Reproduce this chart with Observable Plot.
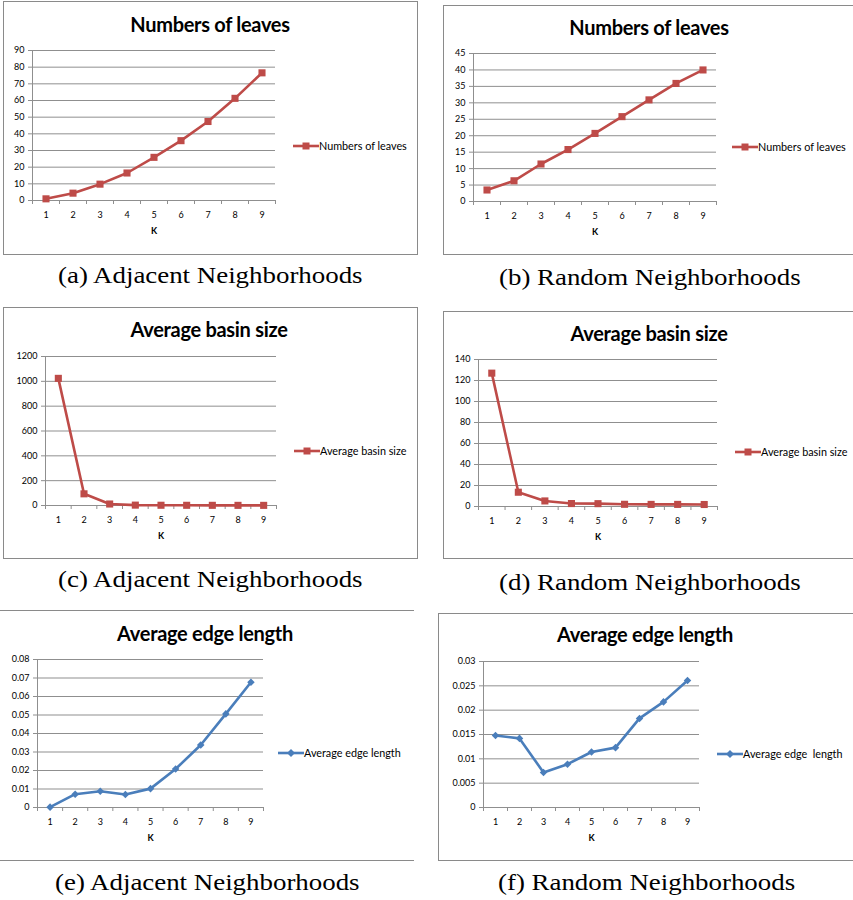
<!DOCTYPE html>
<html>
<head>
<meta charset="utf-8">
<script src="https://cdn.jsdelivr.net/npm/d3@7"></script>
<script src="https://cdn.jsdelivr.net/npm/@observablehq/plot@0.6"></script>
<style>
  body { margin: 0; background: #fff; }
  #root { position: relative; width: 853px; height: 900px; overflow: hidden; background: #fff; }
  .box { position: absolute; border: 1px solid #8a8a8a; box-sizing: border-box; }
  .title { position: absolute; font-family: Lato, sans-serif; font-weight: bold; font-size: 20px; line-height: 22px; transform: translateX(-50%); white-space: nowrap; color: #000; letter-spacing: -0.3px; }
  .caption { position: absolute; font-family: "Liberation Serif", serif; font-size: 24px; line-height: 24px; transform: translateX(-50%) scaleX(1.12); transform-origin: 0 50%; white-space: nowrap; color: #000; }
  .legend { position: absolute; font-family: Lato, sans-serif; font-size: 10.8px; line-height: 12px; display: flex; align-items: center; white-space: nowrap; color: #000; }
  .plot { position: absolute; }
</style>
</head>
<body>
<div id="root"></div>
<script>
// ---- data ----
const K = [1, 2, 3, 4, 5, 6, 7, 8, 9];
const leavesAdjacent = [1.0, 4.4, 9.8, 16.5, 25.9, 35.9, 47.4, 61.3, 76.6];
const leavesRandom = [3.5, 6.3, 11.4, 15.8, 20.7, 25.8, 30.9, 35.9, 40.0];
const basinAdjacent = [1024, 94, 12, 3, 2, 1.6, 1.4, 1.2, 1.1];
const basinRandom = [127, 13.6, 5.3, 2.8, 2.7, 2.1, 2.0, 2.0, 1.9];
const edgeAdjacent = [0.0002, 0.0072, 0.0088, 0.0070, 0.0102, 0.0208, 0.0338, 0.0506, 0.0677];
const edgeRandom = [0.0148, 0.0142, 0.0072, 0.0089, 0.0114, 0.0123, 0.0183, 0.0217, 0.0261];

const ticksLeavesAdjacent = [0, 10, 20, 30, 40, 50, 60, 70, 80, 90];
const ticksLeavesRandom = [0, 5, 10, 15, 20, 25, 30, 35, 40, 45];
const ticksBasinAdjacent = [0, 200, 400, 600, 800, 1000, 1200];
const ticksBasinRandom = [0, 20, 40, 60, 80, 100, 120, 140];
const ticksEdgeAdjacent = [0, 0.01, 0.02, 0.03, 0.04, 0.05, 0.06, 0.07, 0.08];
const ticksEdgeRandom = [0, 0.005, 0.01, 0.015, 0.02, 0.025, 0.03];

const titles = ["Numbers of leaves", "Numbers of leaves", "Average basin size", "Average basin size", "Average edge length", "Average edge length"];
const legendLabels = ["Numbers of leaves", "Numbers of leaves", "Average basin size", "Average basin size", "Average edge length", "Average edge  length"];
const captions = ["(a) Adjacent Neighborhoods", "(b) Random Neighborhoods", "(c) Adjacent Neighborhoods", "(d) Random Neighborhoods", "(e) Adjacent Neighborhoods", "(f) Random Neighborhoods"];
const xLabel = "K";

// ---- layout / style ----
const RED = "#BE4B48", BLUE = "#4A7EBB", GRID = "#8f8f8f";
const panels = [
  {values: leavesAdjacent, ticks: ticksLeavesAdjacent, color: RED, symbol: "square",
   box: {l: 3, t: 1, w: 415, h: 254}, frame: {l: 32, r: 275, t: 50, b: 200},
   title: [210, 24], legend: [293, 146], caption: [210, 275]},
  {values: leavesRandom, ticks: ticksLeavesRandom, color: RED, symbol: "square",
   box: {l: 443, t: 5, w: 430, h: 250}, frame: {l: 473, r: 716, t: 53, b: 201},
   title: [649, 27], legend: [732, 147], caption: [650, 277]},
  {values: basinAdjacent, ticks: ticksBasinAdjacent, color: RED, symbol: "square",
   box: {l: 3, t: 307, w: 415, h: 252}, frame: {l: 45, r: 276, t: 356, b: 505},
   title: [209, 329], legend: [294, 451], caption: [210, 579]},
  {values: basinRandom, ticks: ticksBasinRandom, color: RED, symbol: "square",
   box: {l: 443, t: 311, w: 430, h: 248}, frame: {l: 478, r: 717, t: 359, b: 506},
   title: [649, 333], legend: [735, 452], caption: [650, 582]},
  {values: edgeAdjacent, ticks: ticksEdgeAdjacent, color: BLUE, symbol: "diamond2",
   box: {l: -5, t: 610, w: 419, h: 251}, frame: {l: 37, r: 263, t: 659, b: 807},
   title: [205, 633], legend: [278, 753], caption: [207, 882], noSides: true},
  {values: edgeRandom, ticks: ticksEdgeRandom, color: BLUE, symbol: "diamond2",
   box: {l: 438, t: 613, w: 430, h: 248}, frame: {l: 483, r: 699, t: 661, b: 807},
   title: [645, 634], legend: [717, 754], caption: [647, 882]}
];

const root = document.getElementById("root");
const boundaries = K.map(k => k - 0.5).concat([K[K.length - 1] + 0.5]);

panels.forEach((p, i) => {
  // panel border
  const box = document.createElement("div");
  box.className = "box";
  Object.assign(box.style, {left: p.box.l + "px", top: p.box.t + "px", width: p.box.w + "px", height: p.box.h + "px"});
  if (p.noSides) { box.style.borderLeft = "none"; box.style.borderRight = "none"; }
  root.appendChild(box);

  // title
  const t = document.createElement("div");
  t.className = "title";
  t.textContent = titles[i];
  t.style.left = p.title[0] + "px";
  t.style.top = (p.title[1] - 11) + "px";
  root.appendChild(t);

  // chart
  const ML = 48, MR = 10, MT = 10, MB = 45;
  const data = K.map((k, j) => ({k, v: p.values[j]}));
  const ymax = p.ticks[p.ticks.length - 1];
  const chart = Plot.plot({
    width: (p.frame.r - p.frame.l) + ML + MR,
    height: (p.frame.b - p.frame.t) + MT + MB,
    marginLeft: ML, marginRight: MR, marginTop: MT, marginBottom: MB,
    style: {fontFamily: "Lato, sans-serif", fontSize: "9px", color: "#000", background: "transparent", overflow: "visible"},
    x: {type: "linear", domain: [boundaries[0], boundaries[boundaries.length - 1]], label: null},
    y: {type: "linear", domain: [0, ymax], label: null},
    marks: [
      Plot.gridY(p.ticks, {stroke: GRID, strokeOpacity: 1, strokeWidth: 1}),
      Plot.ruleX([boundaries[0]], {stroke: GRID, strokeWidth: 1}),
      Plot.ruleY([0], {stroke: GRID, strokeWidth: 1}),
      Plot.axisY({ticks: p.ticks, tickSize: 4, tickPadding: 4, tickFormat: d => String(d), stroke: GRID, fill: "#000", fontSize: 9, label: null}),
      Plot.axisX({ticks: boundaries, tickSize: 4, tickFormat: () => "", stroke: GRID, label: null}),
      Plot.axisX({ticks: K, tickSize: 0, tickPadding: 11, tickFormat: d => String(d), fill: "#000", fontSize: 9, label: null}),
      Plot.text([xLabel], {text: d => d, frameAnchor: "bottom", dy: 33, fontWeight: "bold", fontSize: 9, fill: "#000"}),
      Plot.line(data, {x: "k", y: "v", stroke: p.color, strokeWidth: 2.6}),
      Plot.dot(data, {x: "k", y: "v", symbol: p.symbol, r: p.symbol === "square" ? 4 : 3.4, fill: p.color, stroke: "none"})
    ]
  });
  chart.classList.add("plot");
  chart.style.left = (p.frame.l - ML) + "px";
  chart.style.top = (p.frame.t - MT) + "px";
  root.appendChild(chart);

  // legend
  const lg = document.createElement("div");
  lg.className = "legend";
  lg.style.left = p.legend[0] + "px";
  lg.style.top = (p.legend[1] - 6) + "px";
  const ns = "http://www.w3.org/2000/svg";
  const sw = document.createElementNS(ns, "svg");
  sw.setAttribute("width", 26); sw.setAttribute("height", 12);
  const ln = document.createElementNS(ns, "line");
  ln.setAttribute("x1", 0); ln.setAttribute("x2", 26); ln.setAttribute("y1", 6); ln.setAttribute("y2", 6);
  ln.setAttribute("stroke", p.color); ln.setAttribute("stroke-width", 2.6);
  sw.appendChild(ln);
  const mk = document.createElementNS(ns, "path");
  mk.setAttribute("d", p.symbol === "square" ? "M9.5,2.5h7v7h-7z" : "M13,2l4,4l-4,4l-4,-4z");
  mk.setAttribute("fill", p.color);
  sw.appendChild(mk);
  lg.appendChild(sw);
  const lt = document.createElement("span");
  lt.textContent = legendLabels[i];
  lt.style.whiteSpace = "pre";
  lg.appendChild(lt);
  root.appendChild(lg);

  // caption (centered: measure width after insertion, then scale horizontally)
  const c = document.createElement("div");
  c.className = "caption";
  c.textContent = captions[i];
  c.style.top = (p.caption[1] - 12) + "px";
  c.style.transform = "none";
  root.appendChild(c);
  const w = c.getBoundingClientRect().width * 1.12;
  c.style.left = (p.caption[0] - w / 2) + "px";
  c.style.transform = "scaleX(1.12)";
});
</script>
</body>
</html>
